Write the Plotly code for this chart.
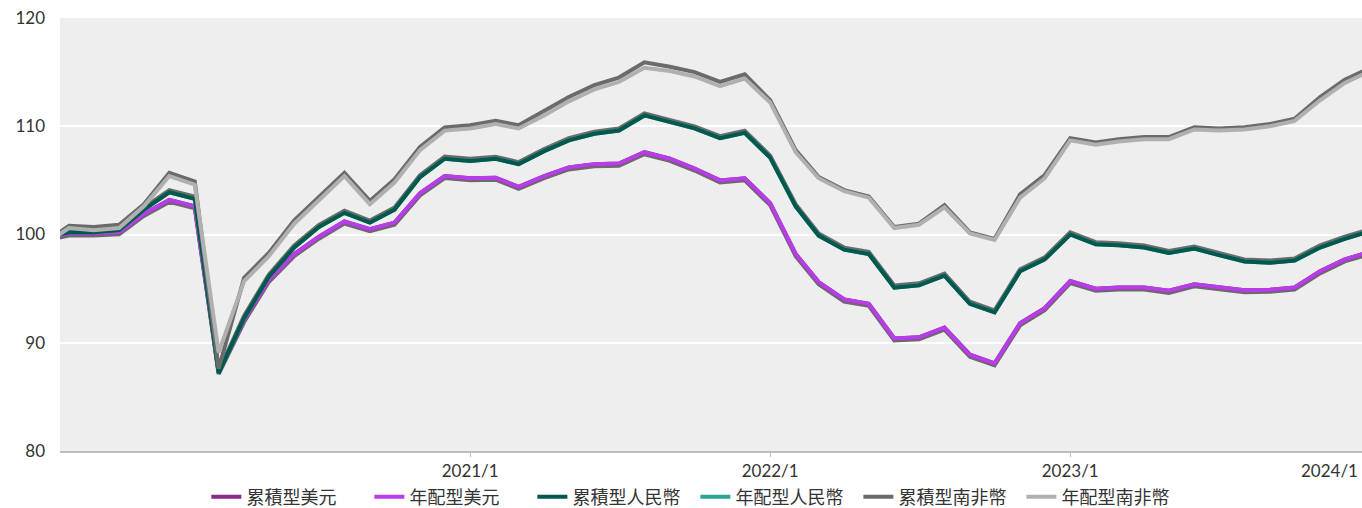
import plotly.graph_objects as go

dates = ["2019-08-20"] + [f"{y}-{m:02d}-01" for y in range(2019, 2025) for m in range(1, 13)
                          if (y, m) >= (2019, 9) and (y, m) <= (2024, 1)]

usd_acc = [99.9, 100.1, 100.1, 100.2, 101.9, 103.2, 102.6, 87.3, 92.1, 95.8, 98.2, 99.8, 101.2, 100.5, 101.1,
           103.8, 105.4, 105.2, 105.25, 104.4, 105.4, 106.2, 106.5, 106.55, 107.6, 107.0, 106.1, 105.0, 105.2,
           102.9, 98.2, 95.6, 94.0, 93.6, 90.4, 90.5, 91.4, 88.9, 88.1, 91.8, 93.2, 95.7, 95.0, 95.1, 95.1,
           94.8, 95.4, 95.1, 94.85, 94.9, 95.1, 96.6, 97.7, 98.4]
usd_dist = list(usd_acc)
cny_acc = [100.0, 100.2, 100.2, 100.4, 102.3, 103.9, 103.3, 87.2, 92.3, 96.1, 98.8, 100.7, 102.0, 101.1, 102.3,
           105.3, 107.0, 106.8, 107.0, 106.5, 107.7, 108.7, 109.3, 109.6, 111.0, 110.4, 109.8, 108.9, 109.4,
           107.1, 102.6, 99.9, 98.6, 98.2, 95.1, 95.3, 96.2, 93.6, 92.8, 96.6, 97.7, 100.0, 99.1, 99.0, 98.8,
           98.3, 98.7, 98.1, 97.5, 97.4, 97.6, 98.8, 99.6, 100.3]
cny_dist = list(cny_acc)
zar_acc = [100.2, 100.8, 100.7, 100.9, 102.8, 105.7, 104.9, 87.6, 96.0, 98.3, 101.3, 103.5, 105.7, 103.1, 105.1,
           108.1, 109.9, 110.1, 110.5, 110.1, 111.4, 112.7, 113.8, 114.5, 115.9, 115.5, 115.0, 114.1, 114.8,
           112.4, 107.8, 105.3, 104.1, 103.5, 100.7, 101.0, 102.7, 100.2, 99.6, 103.7, 105.5, 108.9, 108.5,
           108.8, 109.0, 109.0, 109.9, 109.8, 109.9, 110.2, 110.7, 112.7, 114.3, 115.4]
zar_dist = [100.0, 100.6, 100.4, 100.6, 102.6, 105.4, 104.6, 89.1, 95.7, 98.0, 101.0, 103.2, 105.4, 102.8, 104.8,
            107.8, 109.6, 109.8, 110.2, 109.8, 111.0, 112.3, 113.4, 114.1, 115.4, 115.1, 114.6, 113.7, 114.4,
            112.2, 107.6, 105.2, 104.0, 103.4, 100.6, 100.9, 102.5, 100.1, 99.5, 103.4, 105.2, 108.7, 108.3,
            108.6, 108.8, 108.8, 109.7, 109.6, 109.7, 110.0, 110.5, 112.4, 114.0, 115.1]

names = ["累積型美元", "年配型美元", "累積型人民幣", "年配型人民幣", "累積型南非幣", "年配型南非幣"]
colors = ["#8b2a86", "#b53ee6", "#00594c", "#2aa597", "#6b6b6b", "#b0b0b0"]
series = [usd_acc, usd_dist, cny_acc, cny_dist, zar_acc, zar_dist]

year_ticks = ["2021-01-01", "2022-01-01", "2023-01-01"]
year_text = ["2021/1", "2022/1", "2023/1"]
last_tick_text = "2024/1"
y_ticks = [80, 90, 100, 110, 120]

FONT = "Lato, 'Noto Sans CJK TC', sans-serif"
LW = 4
SHADOW = "#6b6b6b"
off = 0.19  # about 2px

fig = go.Figure()
# shadows (drawn first, beneath)
fig.add_trace(go.Scatter(x=dates, y=usd_dist, mode="lines", line=dict(color=SHADOW, width=LW),
                         showlegend=False, hoverinfo="skip", xaxis="x", yaxis="y"))
fig.add_trace(go.Scatter(x=dates, y=cny_acc, mode="lines", line=dict(color=SHADOW, width=LW),
                         showlegend=False, hoverinfo="skip", xaxis="x", yaxis="y2"))

draw_order = [0, 1, 3, 2, 4, 5]
for i in draw_order:
    fig.add_trace(go.Scatter(x=dates, y=series[i], mode="lines", name=names[i],
                             line=dict(color=colors[i], width=LW), legendrank=i + 1,
                             xaxis="x", yaxis="y3"))

fig.update_layout(
    width=1362, height=508,
    margin=dict(l=60, r=0, t=18, b=57, autoexpand=False),
    paper_bgcolor="white", plot_bgcolor="#eeeeee",
    font=dict(family=FONT, color="#333333"),
    xaxis=dict(type="date", range=["2019-08-21", "2023-12-22"], tickvals=year_ticks, ticktext=year_text,
               showgrid=False, showline=True, linecolor="#bdbdbd", linewidth=2,
               ticks="outside", ticklen=4, tickcolor="#bdbdbd", tickfont=dict(size=17, color="#333333"),
               zeroline=False),
    yaxis=dict(range=[80 + off, 120 + off], visible=False, fixedrange=True),
    yaxis2=dict(range=[80 - off, 120 - off], visible=False, overlaying="y"),
    yaxis3=dict(range=[80, 120], overlaying="y", side="left", tickvals=y_ticks, showgrid=True,
                gridcolor="white", gridwidth=1.5, zeroline=False, showline=False,
                tickfont=dict(size=17, color="#333333"), ticklabelstandoff=14),
    legend=dict(orientation="h", x=0.488, xanchor="center", y=-46 / 433, yanchor="middle",
                font=dict(size=18, color="#333333"), itemwidth=30, entrywidth=118,
                bgcolor="rgba(0,0,0,0)"),
    annotations=[dict(text=last_tick_text, xref="paper", yref="paper", x=1, y=-0.044, xshift=-2,
                      xanchor="right", yanchor="middle", showarrow=False,
                      font=dict(size=17, color="#333333", family=FONT))],
    showlegend=True,
)

fig.write_html("out.html", config={"displayModeBar": False},
               post_script="document.body.style.margin='0';document.body.style.overflow='hidden';")
